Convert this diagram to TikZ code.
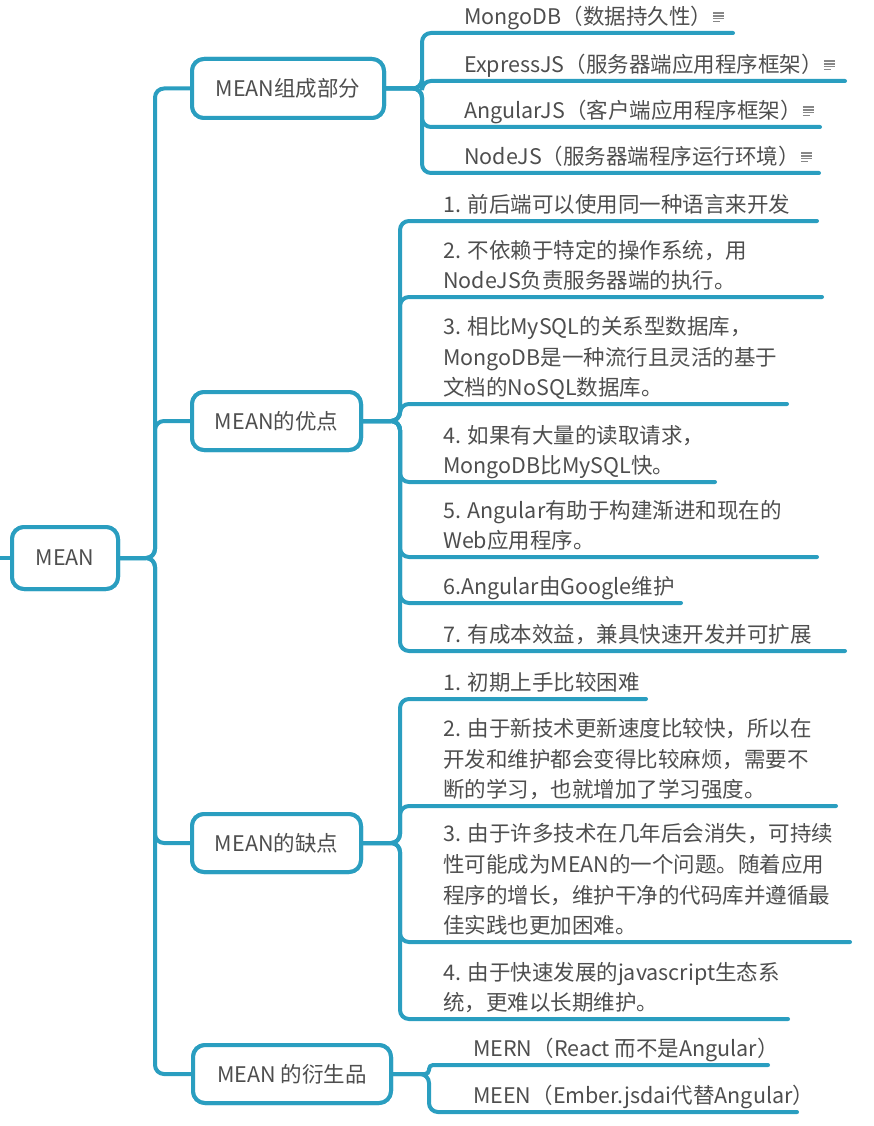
\documentclass[tikz,border=0pt]{standalone}
\usepackage{fontspec}
\setmainfont{Noto Sans CJK SC}
\definecolor{ln}{RGB}{42,158,192}
\definecolor{tx}{RGB}{78,78,78}
\definecolor{ic}{RGB}{135,135,135}
\tikzset{
  conn/.style={draw=ln, line width=4pt, rounded corners=9pt, line cap=round},
  mbox/.style={draw=ln, line width=4pt, rounded corners=12pt, fill=white, text=tx,
    font=\fontsize{21.5}{26}\selectfont, inner sep=0pt},
  leaf/.style={text=tx, font=\fontsize{21.5}{30.7}\selectfont, align=left,
    inner sep=0pt, anchor=south west},
  icline/.style={draw=ic, line width=1.4pt},
}
\newcommand\mkleaf[7]{%
  \coordinate (#1e) at (#5,#4);
  \node[leaf] (#1) at (#6,#4+1.2) {#7\strut};
  \draw[conn] (#2.east) -- (#3) |- (#1e);
}
\newcommand\noteicon[1]{%
  \draw[icline] ([xshift=1pt,yshift=21pt]#1.south east) -- ++(11pt,0);
  \draw[icline] ([xshift=1pt,yshift=18.3pt]#1.south east) -- ++(11pt,0);
  \draw[icline] ([xshift=1pt,yshift=15.6pt]#1.south east) -- ++(11pt,0);
  \draw[icline] ([xshift=1pt,yshift=12.9pt]#1.south east) -- ++(7pt,0);
}
\begin{document}
\begin{tikzpicture}[x=1pt,y=-1pt]
\useasboundingbox (0,0) rectangle (873,1126);
% trunk coordinates
\coordinate (stub) at (0,558);
\coordinate (t) at (155,558);
\coordinate (s1) at (422,88.5);
\coordinate (s2) at (400,421);
\coordinate (s3) at (400,843);
\coordinate (s4) at (429,1074);
% boxes (placed first for anchors)
\path node[mbox, minimum width=106pt, minimum height=62pt] (root) at (65,558) {MEAN};
\path node[mbox, minimum width=192pt, minimum height=59pt] (b1) at (288,88.5) {MEAN组成部分};
\path node[mbox, minimum width=169pt, minimum height=58pt] (b2) at (276.5,421) {MEAN的优点};
\path node[mbox, minimum width=169pt, minimum height=58pt] (b3) at (276.5,843) {MEAN的缺点};
\path node[mbox, minimum width=198pt, minimum height=58pt] (b4) at (292,1074) {MEAN 的衍生品};
% root connectors
\draw[conn] (stub) -- (root.west);
\draw[conn] (root.east) -- (t) |- (b1.west);
\draw[conn] (root.east) -- (t) |- (b2.west);
\draw[conn] (root.east) -- (t) |- (b3.west);
\draw[conn] (root.east) -- (t) |- (b4.west);
% branch 1
\mkleaf{m1}{b1}{s1}{33}{733}{464}{MongoDB（数据持久性）}
\mkleaf{m2}{b1}{s1}{81}{845}{464}{ExpressJS（服务器端应用程序框架）}
\mkleaf{m3}{b1}{s1}{127}{820}{464}{AngularJS（客户端应用程序框架）}
\mkleaf{m4}{b1}{s1}{173}{819}{464}{NodeJS（服务器端程序运行环境）}
\noteicon{m1}
\noteicon{m2}
\noteicon{m3}
\noteicon{m4}
% branch 2
\mkleaf{p1}{b2}{s2}{221}{817}{443}{1. 前后端可以使用同一种语言来开发}
\mkleaf{p2}{b2}{s2}{297}{822}{443}{2. 不依赖于特定的操作系统，用\\NodeJS负责服务器端的执行。}
\mkleaf{p3}{b2}{s2}{404}{787}{443}{3. 相比MySQL的关系型数据库，\\MongoDB是一种流行且灵活的基于\\文档的NoSQL数据库。}
\mkleaf{p4}{b2}{s2}{482}{715}{443}{4. 如果有大量的读取请求，\\MongoDB比MySQL快。}
\mkleaf{p5}{b2}{s2}{557}{817}{443}{5. Angular有助于构建渐进和现在的\\Web应用程序。}
\mkleaf{p6}{b2}{s2}{603}{681}{443}{6.Angular由Google维护}
\mkleaf{p7}{b2}{s2}{651}{845}{443}{7. 有成本效益，兼具快速开发并可扩展}
% branch 3
\mkleaf{c1}{b3}{s3}{699}{646}{443}{1. 初期上手比较困难}
\mkleaf{c2}{b3}{s3}{806}{836}{443}{2. 由于新技术更新速度比较快，所以在\\开发和维护都会变得比较麻烦，需要不\\断的学习，也就增加了学习强度。}
\mkleaf{c3}{b3}{s3}{942}{850}{443}{3. 由于许多技术在几年后会消失，可持续\\性可能成为MEAN的一个问题。随着应用\\程序的增长，维护干净的代码库并遵循最\\佳实践也更加困难。}
\mkleaf{c4}{b3}{s3}{1019}{788}{443}{4. 由于快速发展的javascript生态系\\统，更难以长期维护。}
% branch 4
\coordinate (d1e) at (768,1065);
\node[leaf] (d1) at (473,1066.2) {MERN（React 而不是Angular）\strut};
\draw[conn, rounded corners=4pt] (b4.east) -- (s4) |- (d1e);
\mkleaf{d2}{b4}{s4}{1112}{797}{473}{MEEN（Ember.jsdai代替Angular）}
% redraw boxes on top
\node[mbox, minimum width=106pt, minimum height=62pt] at (root) {MEAN};
\node[mbox, minimum width=192pt, minimum height=59pt] at (b1) {MEAN组成部分};
\node[mbox, minimum width=169pt, minimum height=58pt] at (b2) {MEAN的优点};
\node[mbox, minimum width=169pt, minimum height=58pt] at (b3) {MEAN的缺点};
\node[mbox, minimum width=198pt, minimum height=58pt] at (b4) {MEAN 的衍生品};
\end{tikzpicture}
\end{document}
